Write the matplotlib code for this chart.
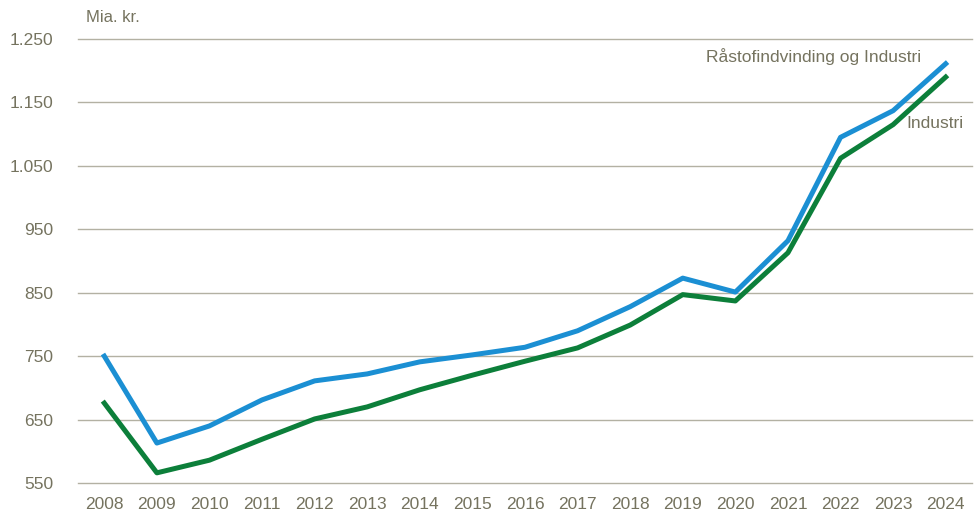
import matplotlib.pyplot as plt
from matplotlib.ticker import FuncFormatter

# Values in mia. kr.
years = list(range(2008, 2025))
raastof_industri = [750, 613, 640, 681, 711, 722, 741, 752, 764, 790, 828, 873, 851, 932, 1095, 1137, 1211]
industri = [676, 566, 586, 619, 651, 670, 697, 720, 742, 763, 799, 847, 837, 913, 1062, 1115, 1190]
y_ticks = [550, 650, 750, 850, 950, 1050, 1150, 1250]

plt.rcParams["font.family"] = ["Liberation Sans", "DejaVu Sans"]

text_col = "#75735f"
grid_col = "#b3b1a3"
blue = "#1b8fd3"
green = "#0c7f3a"

fig = plt.figure(figsize=(9.77, 5.19), dpi=100)
ax = fig.add_axes([78 / 977, 1 - 483 / 519, 894 / 977, 444 / 519])

x = range(len(years))
ax.plot(x, raastof_industri, color=blue, lw=3.6)
ax.plot(x, industri, color=green, lw=3.6)

ax.set_xlim(-0.5, len(years) - 0.5)
ax.set_ylim(550, 1250)
ax.set_yticks(y_ticks)
ax.yaxis.set_major_formatter(FuncFormatter(lambda v, p: f"{int(v):,}".replace(",", ".")))
ax.set_xticks(list(x))
ax.set_xticklabels([str(y) for y in years])

ax.grid(axis="y", color=grid_col, lw=1)
ax.set_axisbelow(True)
for gl in ax.get_ygridlines():
    gl.set_clip_on(False)
for s in ax.spines.values():
    s.set_visible(False)
ax.tick_params(length=0, labelsize=12.5, labelcolor=text_col)
ax.tick_params(axis="y", pad=18)
ax.tick_params(axis="x", pad=10)

ax.text(0.009, 1.048, "Mia. kr.", transform=ax.transAxes, color=text_col, fontsize=12,
        ha="left", va="center", clip_on=False)
ax.text(15.53, 1222, "Råstofindvinding og Industri", color=text_col, fontsize=12.5, ha="right", va="center")
ax.text(16.33, 1116, "Industri", color=text_col, fontsize=12.5, ha="right", va="center")

fig.savefig("out.png", dpi=100)
